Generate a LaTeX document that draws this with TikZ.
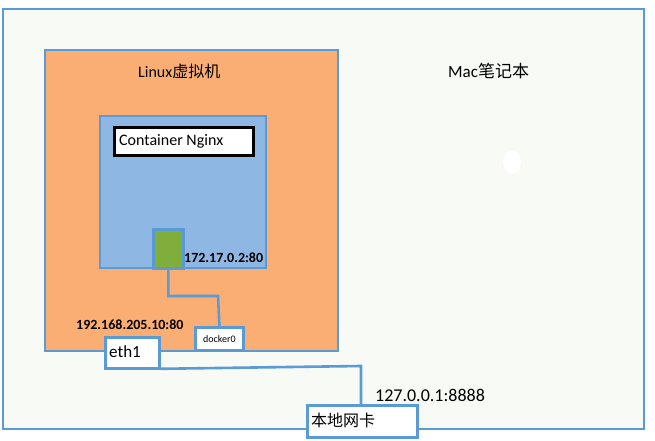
\documentclass[tikz,border=0pt]{standalone}
\usepackage{fontspec}
\setmainfont{Carlito}
\newfontfamily\cjk{Noto Sans CJK SC}
\definecolor{edgeblue}{HTML}{5B9BD5}
\definecolor{bgpale}{HTML}{F8FAF6}
\definecolor{vmorange}{HTML}{FBAE74}
\definecolor{ctblue}{HTML}{8FB7E3}
\definecolor{portgreen}{HTML}{80AE3A}
\begin{document}
\begin{tikzpicture}[x=1pt,y=-1pt,
  frame/.style={draw=edgeblue,line width=2.8pt},
  wire/.style={draw=edgeblue,line width=2.6pt},
  ifbox/.style={frame,fill=white,inner sep=0pt,anchor=north west},
  lbl/.style={inner sep=0pt,anchor=west}]
\useasboundingbox (0,0) rectangle (655,441);
\fill[white] (0,0) rectangle (655,441);
% Mac box
\draw[frame,fill=bgpale] (3,9) rectangle (644,429);
\node[lbl] (mac) at (448,71) {\fontsize{17}{19}\selectfont Mac{\cjk 笔记本}};
\fill[white] (512,162) ellipse (9 and 12);
% Linux VM
\draw[frame,fill=vmorange] (45,50) rectangle (338,351);
\node[lbl] (vm) at (138,71) {\fontsize{16}{18}\selectfont Linux{\cjk 虚拟机}};
% container
\draw[frame,fill=ctblue] (100,116) rectangle (266,268);
\node[draw=black,line width=2.6pt,fill=white,minimum width=139,minimum height=28,inner sep=0pt,anchor=north west] (cn) at (113,126) {};
\node[lbl] (cnt) at (119,141) {\fontsize{16}{18}\selectfont Container Nginx};
% green port
\node[draw=edgeblue,line width=2.6pt,fill=portgreen,minimum width=30,minimum height=39,inner sep=0pt,anchor=north west] (port) at (152,228) {};
\node[lbl] (ip1) at (184,258) {\fontsize{14}{16}\selectfont\bfseries 172.17.0.2:80};
% docker0
\node[ifbox,minimum width=48,minimum height=23] (d0) at (194,326) {\fontsize{10}{12}\selectfont docker0};
\draw[wire] (port.south) |- (218,296) -- (d0.north);
% eth1
\node[lbl] (ip2) at (76,325) {\fontsize{14}{16}\selectfont\bfseries 192.168.205.10:80};
\node[ifbox,minimum width=54,minimum height=31] (eth) at (104,336) {};
\node[lbl] (etht) at (109,352) {\fontsize{17}{19}\selectfont eth1};
% local nic
\node[ifbox,minimum width=110,minimum height=32] (nic) at (306,404) {};
\node[lbl] (nict) at (311,420) {\fontsize{16}{18}\selectfont\cjk 本地网卡};
\node[lbl] (ip3) at (375,395) {\fontsize{18}{20}\selectfont 127.0.0.1:8888};
\draw[wire] (eth.south east) ++(0,-1) coordinate (e1) -- (361,366) -- (361,404);
\end{tikzpicture}
\end{document}
